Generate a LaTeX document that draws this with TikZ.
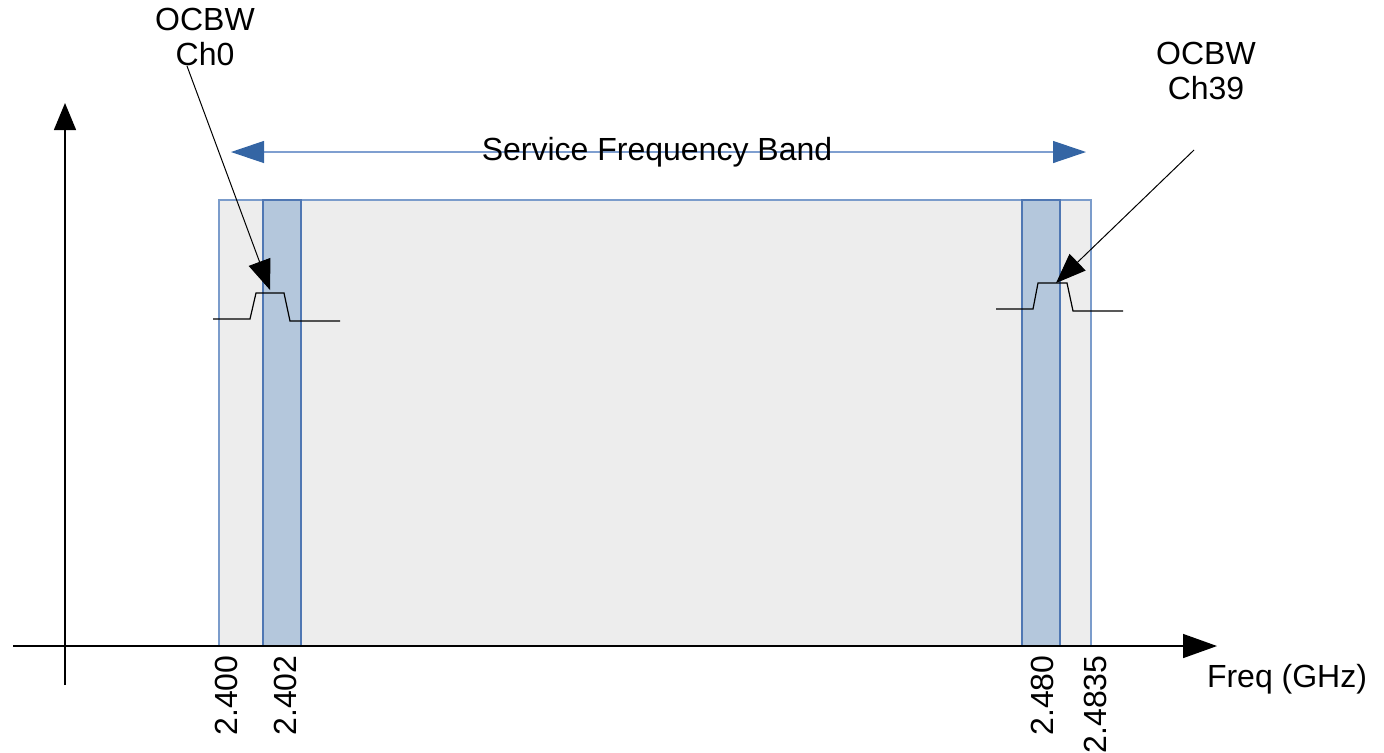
\documentclass[tikz,border=0pt]{standalone}
\usepackage{fontspec}
\setmainfont{Liberation Sans}
\usetikzlibrary{arrows.meta}
\definecolor{bandfill}{HTML}{EDEDED}
\definecolor{bandedge}{HTML}{7B9CCB}
\definecolor{chanfill}{HTML}{B4C7DC}
\definecolor{chanedge}{HTML}{4F77B3}
\definecolor{spanline}{HTML}{7F9FD0}
\definecolor{spanhead}{HTML}{3465A4}
\tikzset{
  lbl/.style={font=\fontsize{16}{17.5}\selectfont, align=center, inner sep=0pt},
  ticklbl/.style={font=\fontsize{16}{18}\selectfont, rotate=90, anchor=east, inner sep=0pt},
  axisline/.style={line width=0.75pt, black},
  bandbox/.style={fill=bandfill, draw=bandedge, line width=0.6pt},
  chanbox/.style={fill=chanfill, draw=chanedge, line width=0.6pt},
  pulse/.style={line width=0.6pt, black},
  pointer/.style={line width=0.5pt, black, -{Triangle[length=15pt,width=11.5pt]}},
  spanarrow/.style={line width=0.6pt, spanline,
    {Triangle[length=16.5pt,width=11pt,color=spanhead]}-{Triangle[length=16.5pt,width=11pt,color=spanhead]}}
}
\begin{document}
\begin{tikzpicture}[x=0.5pt,y=-0.5pt]
\useasboundingbox (0,0) rectangle (1384,752);

% service band and the two channel strips
\path[bandbox] (219,200) rectangle (1091,646);
\path[chanbox] (263,200) rectangle (301,646);
\path[chanbox] (1022,200) rectangle (1060,646);

% axes
\coordinate (xstart) at (13,646);
\coordinate (xend) at (1217,646);
\coordinate (ystart) at (65,685);
\coordinate (yend) at (65,103);
\draw[axisline, -{Triangle[length=17pt,width=12pt]}] (xstart) -- (xend);
\draw[axisline, -{Triangle[length=13.5pt,width=11pt]}] (ystart) -- (yend);

% channel spectra
\draw[pulse] (213,319) -- (250,319) -- (256,293) -- (284,293) -- (290,321) -- (340,321);
\draw[pulse] (996,309) -- (1033,309) -- (1038,283) -- (1067,283) -- (1073,311) -- (1123,311);

% band span arrow
\coordinate (spanL) at (231,152);
\coordinate (spanR) at (1086,152);
\draw[spanarrow] (spanL) -- (spanR);
\node[lbl] (span) at (657,152) {Service Frequency Band};

% channel labels with pointers
\node[lbl] (ch0) at (205,37) {OCBW\\Ch0};
\node[lbl] (ch39) at (1206,71) {OCBW\\Ch39};
\coordinate (ch0from) at (187,66);
\coordinate (ch0tip) at (270,290);
\coordinate (ch39from) at (1194,150);
\coordinate (ch39tip) at (1056,283);
\draw[pointer] (ch0from) -- (ch0tip);
\draw[pointer] (ch39from) -- (ch39tip);

% frequency ticks
\node[ticklbl] (f0) at (226,655) {2.400};
\node[ticklbl] (f1) at (285,655) {2.402};
\node[ticklbl] (f2) at (1042,655) {2.480};
\node[ticklbl] (f3) at (1095,655) {2.4835};
\node[lbl] (xlabel) at (1287,679) {Freq (GHz)};
\end{tikzpicture}
\end{document}
